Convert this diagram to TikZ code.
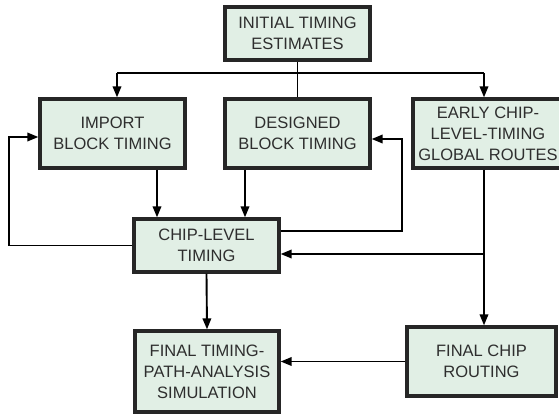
\documentclass[tikz,border=0pt]{standalone}
\usepackage{fontspec}
\setmainfont{Liberation Sans}
\usetikzlibrary{arrows.meta}
\definecolor{blockfill}{HTML}{E1EFE5}
\definecolor{blockline}{HTML}{262626}
\definecolor{blocktext}{HTML}{2E2E2E}
\begin{document}
\begin{tikzpicture}[x=1pt,y=-1pt,%
            myblock/.style={shape=rectangle, draw=blockline, line width=3.3pt,
                fill=blockfill, text=blocktext, align=center, inner sep=0pt,
                font=\fontsize{16.5}{21}\selectfont},
            myarrow/.style={line width=1.9pt, -{Triangle[length=11pt,width=8.5pt]}},
            myline/.style={line width=1.9pt}
    ]
    \useasboundingbox (0,0) rectangle (559,413);

    \node [myblock, minimum width=145, minimum height=53] (init)     at (297.5,33.5) {INITIAL TIMING\\ESTIMATES};
    \node [myblock, minimum width=145, minimum height=69] (import)   at (112.5,133.5) {IMPORT\\BLOCK TIMING};
    \node [myblock, minimum width=145, minimum height=69] (designed) at (297.5,133.5) {DESIGNED\\BLOCK TIMING};
    \node [myblock, minimum width=150, minimum height=69] (early)    at (488,133.5) {EARLY CHIP-\\LEVEL-TIMING\\GLOBAL ROUTES};
    \node [myblock, minimum width=145, minimum height=53] (chip)     at (206.5,245.5) {CHIP-LEVEL\\TIMING};
    \node [myblock, minimum width=144, minimum height=81] (final)    at (207,371.5) {FINAL TIMING-\\PATH-ANALYSIS\\SIMULATION};
    \node [myblock, minimum width=149, minimum height=69] (routing)  at (481.5,361.5) {FINAL CHIP\\ROUTING};

    % fan-out from the initial estimates
    \coordinate (split) at (296,73);
    \coordinate (trunk) at (484,73);
    \draw [myline] (init.south) -- (designed.north);
    \draw [myline] (split -| import.north) ++(4.5,0) -- (trunk);
    \draw [myarrow] ([xshift=4.5pt]import.north |- split) -- ([xshift=4.5pt]import.north);
    \draw [myarrow] (trunk) -- (trunk |- early.north);

    % blocks into chip-level timing
    \draw [myarrow] ([xshift=44.5pt]import.south) -- ([xshift=44.5pt]import.south |- chip.north);
    \draw [myarrow] ([xshift=-52.5pt]designed.south) -- ([xshift=-52.5pt]designed.south |- chip.north);

    % feedback loops
    \draw [myarrow] (chip.west) -| (9,137) -- ([yshift=-3.5pt]import.west);
    \draw [myarrow] ([yshift=14.5pt]chip.east) -| (402,139) -- ([yshift=-5.5pt]designed.east);

    % global routes down to routing and back to chip-level timing
    \draw [myarrow] (trunk |- early.south) -- (trunk |- routing.north);
    \draw [myarrow] (trunk |- 0,254) -- ([yshift=-8.5pt]chip.east);

    % to the final analysis
    \draw [myarrow] (chip.south) -- (final.north);
    \draw [myarrow] (routing.west) -- (routing.west -| final.east);
\end{tikzpicture}
\end{document}
